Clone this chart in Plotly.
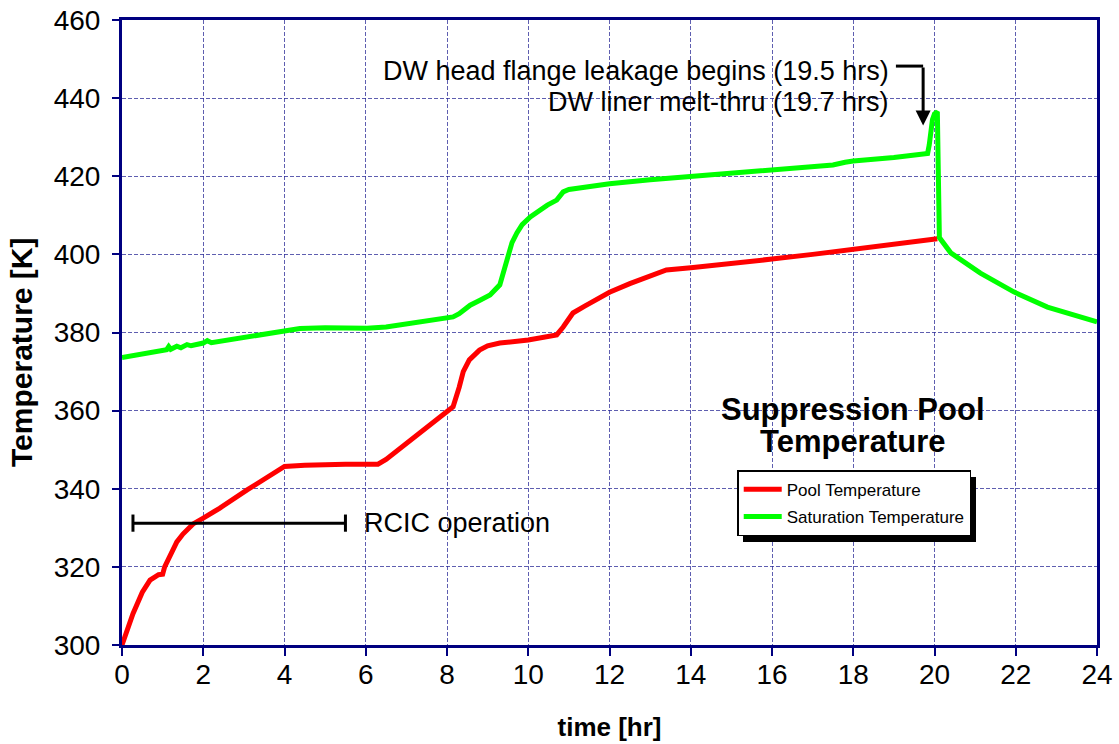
import plotly.graph_objects as go

# ---- data ----
pool_t = [0, 0.1, 0.27, 0.5, 0.69, 0.9, 1.0, 1.05, 1.1, 1.35, 1.5, 1.75, 2.0, 2.4, 3.08, 3.57, 4.0,
          4.5, 5.0, 5.5, 6.0, 6.3, 6.5, 7.0, 7.5, 8.0, 8.15, 8.3, 8.4, 8.55, 8.8, 9.0, 9.3, 10.0,
          10.7, 10.86, 11.1, 11.4, 11.77, 12.0, 12.5, 13.0, 13.4, 14.0, 15.0, 16.0, 17.0, 18.0,
          19.0, 20.07]
pool_T = [300, 303, 308, 313.5, 316.6, 318, 318.1, 320, 321, 326.4, 328.4, 331, 332.5, 335, 339.7, 342.8, 345.7,
          346.0, 346.3, 346.3, 346.3, 346.3, 347.5, 351.5, 355.7, 359.7, 361, 366, 370, 373, 375.5, 376.6, 377.3, 378.1,
          379.4, 381.4, 385, 386.8, 389.1, 390.3, 392.5, 394.5, 396, 396.6, 397.6, 398.8, 400.0, 401.3,
          402.6, 404]

sat_t = [0, 0.5, 1.0, 1.1, 1.15, 1.2, 1.35, 1.45, 1.6, 1.7, 2.0, 2.1, 2.2, 2.5, 3.0, 3.5, 4.0, 4.38,
         5.0, 5.5, 6.03, 6.5, 6.85, 7.3, 7.66, 8.15, 8.3, 8.57, 8.8, 9.06, 9.3, 9.4, 9.48, 9.6, 9.72,
         9.85, 10.05, 10.3, 10.47, 10.7, 10.86, 11.0, 11.77, 12.0, 13.0, 14.0, 15.0, 16.0, 17.0, 17.5,
         17.8, 18.0, 19.0, 19.83, 19.87, 19.9, 19.95, 20.0, 20.07, 20.12, 20.4, 21.13, 21.95, 22.78, 24.0]
sat_T = [373.6, 374.5, 375.3, 375.6, 376.4, 375.7, 376.5, 376.1, 376.9, 376.6, 377.3, 377.9, 377.4, 377.9, 378.9, 379.7, 380.4, 381.0,
         381.2, 381.1, 381.1, 381.4, 381.9, 382.5, 383.2, 384.0, 384.8, 387.0, 388.2, 389.6, 392.2, 396, 399.3, 403, 405.5,
         407.6, 409.6, 411.6, 412.6, 413.9, 416.0, 416.6, 417.8, 418.1, 419.1, 420.0, 420.8, 421.6, 422.5, 422.9,
         423.6, 423.9, 424.8, 425.8, 428, 431.5, 434.5, 436, 436.5, 404.3, 400.4, 395.2, 390.4, 386.5, 382.7]

x_ticks = list(range(0, 25, 2))
y_ticks = list(range(300, 461, 20))

NAVY = "#000080"
GRID = "rgba(40,40,150,0.75)"
FONT = "Liberation Sans, Arial, sans-serif"

fig = go.Figure()
fig.add_trace(go.Scatter(x=pool_t, y=pool_T, mode="lines", name="Pool Temperature",
                         line=dict(color="#ff0000", width=5), legendgroup="a"))
fig.add_trace(go.Scatter(x=sat_t, y=sat_T, mode="lines", name="Saturation Temperature",
                         line=dict(color="#00ff00", width=5), legendgroup="b"))

fig.update_layout(
    width=1119, height=744,
    margin=dict(l=122, r=22, t=20, b=99),
    plot_bgcolor="white", paper_bgcolor="white",
    font=dict(family=FONT, color="black", size=26),
    showlegend=True,
    legend=dict(x=0.631, y=0.2795, xanchor="left", yanchor="top",
                bgcolor="white", bordercolor="black", borderwidth=1.5,
                font=dict(family=FONT, size=17, color="black"),
                tracegroupgap=2, itemwidth=38),
)

fig.update_xaxes(range=[0, 24], tickvals=x_ticks, ticks="outside", ticklen=8, tickwidth=1.5,
                 tickcolor=NAVY, showline=True, linecolor=NAVY, linewidth=3, mirror=True,
                 showgrid=True, gridcolor=GRID, gridwidth=1, griddash="4px,2px", zeroline=False,
                 tickfont=dict(family=FONT, size=28), ticklabelstandoff=-6, automargin=False,
                 ticklabeloverflow="allow",
                 title=dict(text="<b>time [hr]</b>", font=dict(family=FONT, size=26), standoff=30))
fig.update_yaxes(range=[300, 460], tickvals=y_ticks, ticks="outside", ticklen=7, tickwidth=1.5,
                 tickcolor=NAVY, showline=True, linecolor=NAVY, linewidth=3, mirror=True,
                 showgrid=True, gridcolor=GRID, gridwidth=1, griddash="4px,2px", zeroline=False,
                 tickfont=dict(family=FONT, size=28), ticklabelstandoff=6, automargin=False,
                 ticklabeloverflow="allow")

# y-axis title (placed as in the reference, a little below the plot centre)
fig.add_annotation(xref="paper", yref="paper", x=(22 - 122) / 975, y=(645 - 353) / 625,
                   xanchor="center", yanchor="middle",
                   text="<b>Temperature [K]</b>", textangle=-90, showarrow=False,
                   font=dict(family=FONT, size=30, color="black"))

# legend shadow
fig.add_shape(type="rect", xref="paper", yref="paper",
              x0=(743 - 122) / 975, x1=(976 - 122) / 975, y0=(645 - 542) / 625, y1=(645 - 477) / 625,
              fillcolor="black", line=dict(width=0), layer="above")

# RCIC operation bar
rcic_x0, rcic_x1, rcic_y = 0.27, 5.5, 331.2
fig.add_shape(type="line", x0=rcic_x0, x1=rcic_x1, y0=rcic_y, y1=rcic_y, line=dict(color="black", width=3))
for xx in (rcic_x0, rcic_x1):
    fig.add_shape(type="line", x0=xx, x1=xx, y0=rcic_y - 2.2, y1=rcic_y + 2.2, line=dict(color="black", width=3))
fig.add_annotation(x=5.9, y=rcic_y, text="RCIC operation", showarrow=False, xanchor="left",
                   font=dict(family=FONT, size=27, color="black"))

# DW bracket arrow
br_x0, br_x1, br_y, tip_y = 19.05, 19.72, 448.2, 433.0
fig.add_shape(type="line", x0=br_x0, x1=br_x1, y0=br_y, y1=br_y, line=dict(color="black", width=3))
fig.add_annotation(x=br_x1, y=tip_y, ax=br_x1, ay=br_y, axref="x", ayref="y", text="",
                   showarrow=True, arrowhead=2, arrowsize=1, arrowwidth=3, arrowcolor="black", standoff=0)
fig.add_annotation(x=18.93, y=447.0, text="DW head flange leakage begins (19.5 hrs)", showarrow=False,
                   xanchor="right", font=dict(family=FONT, size=27, color="black"))
fig.add_annotation(x=18.93, y=439.1, text="DW liner melt-thru (19.7 hrs)", showarrow=False,
                   xanchor="right", font=dict(family=FONT, size=27, color="black"))

# chart title inside plot
fig.add_annotation(x=18.0, y=360.3, text="<b>Suppression Pool</b>", showarrow=False,
                   font=dict(family=FONT, size=31, color="black"))
fig.add_annotation(x=18.0, y=352.1, text="<b>Temperature</b>", showarrow=False,
                   font=dict(family=FONT, size=31, color="black"))

# remove the default 8px page margin so the figure fills the window exactly
fig.write_html("out.html", config={"displayModeBar": False},
               post_script="document.body.style.margin='0px';")
